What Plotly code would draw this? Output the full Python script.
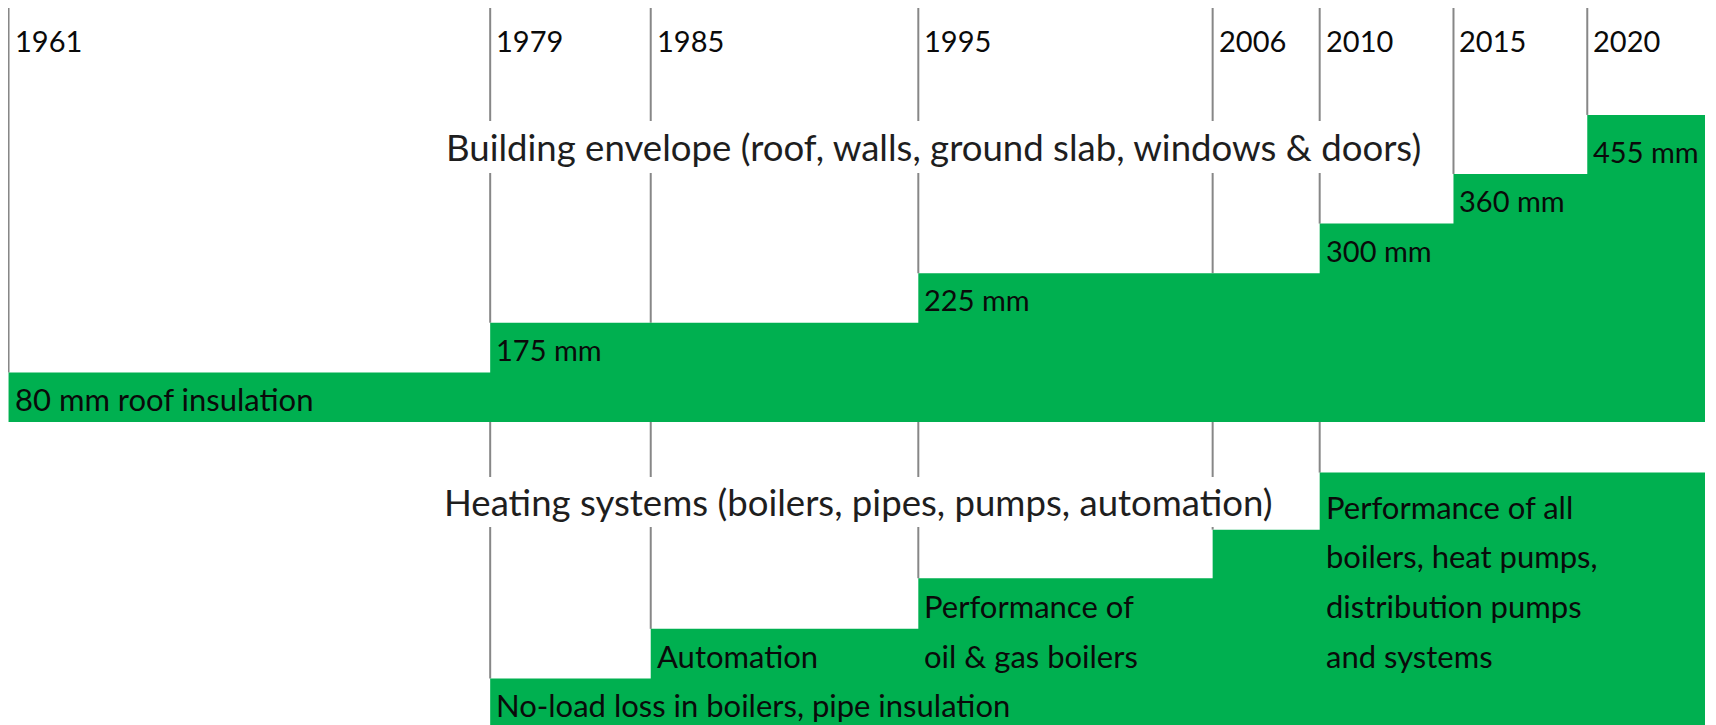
import plotly.graph_objects as go

# ---------------- data ----------------
YEARS = [1961, 1979, 1985, 1995, 2006, 2010, 2015, 2020]
END_YEAR = 2024.4

ENV_YEARS = [1961, 1979, 1995, 2010, 2015, 2020]
ENV_LEVELS = [1, 2, 3, 4, 5, 6.19]
ENV_LABELS = [["80 mm roof insulation"], ["175 mm"], ["225 mm"],
              ["300 mm"], ["360 mm"], ["455 mm"]]

HEAT_YEARS = [1979, 1985, 1995, 2006, 2010]
HEAT_LEVELS = [1, 2, 3.02, 4, 5.15]
HEAT_LABELS = [["No-load loss in boilers, pipe insulation"],
               ["Automation"],
               ["Performance of", "oil & gas boilers"],
               [],
               ["Performance of all", "boilers, heat pumps,",
                "distribution pumps", "and systems"]]

ENV_TITLE = "Building envelope (roof, walls, ground slab, windows & doors)"
HEAT_TITLE = "Heating systems (boilers, pipes, pumps, automation)"

# ---------------- layout constants ----------------
W, H = 1716, 725
X_RANGE = [1960.98, 2025.11]
Y_RANGE = [-0.10, 14.516]
ENV_BASE = 6.17
LINE_TOP = 14.6
YEAR_ROW = 13.86
GREEN = "#00B050"
GRID = "#878787"
FONT = "Lato"
NUM_SIZE = 29
WORD_SIZE = 31
TITLE_SIZE = 36.6
TEXT = "#0a0a0a"


def level_at(years, levels, year):
    lv = None
    for yr, v in zip(years, levels):
        if yr <= year:
            lv = v
    return lv


def label_size(t):
    return NUM_SIZE if t.endswith(" mm") else WORD_SIZE


fig = go.Figure()

# vertical grey year lines
lx, ly = [], []
for yr in YEARS:
    lv = level_at(ENV_YEARS, ENV_LEVELS, yr)
    lx += [yr, yr, None]
    ly += [ENV_BASE + lv, LINE_TOP, None]
for yr in HEAT_YEARS:
    lv = level_at(HEAT_YEARS, HEAT_LEVELS, yr)
    lx += [yr, yr, None]
    ly += [lv, ENV_BASE, None]
fig.add_trace(go.Scatter(x=lx, y=ly, mode="lines",
                         line=dict(color=GRID, width=2),
                         hoverinfo="skip", showlegend=False))

# building envelope step
fig.add_trace(go.Scatter(x=[ENV_YEARS[0], END_YEAR], y=[ENV_BASE, ENV_BASE],
                         mode="lines", line=dict(width=0, color=GREEN),
                         hoverinfo="skip", showlegend=False))
fig.add_trace(go.Scatter(x=ENV_YEARS + [END_YEAR],
                         y=[ENV_BASE + v for v in ENV_LEVELS] + [ENV_BASE + ENV_LEVELS[-1]],
                         mode="lines", line=dict(width=0, color=GREEN, shape="hv"),
                         fill="tonexty", fillcolor=GREEN,
                         hoverinfo="skip", showlegend=False))

# heating systems step
fig.add_trace(go.Scatter(x=HEAT_YEARS + [END_YEAR],
                         y=HEAT_LEVELS + [HEAT_LEVELS[-1]],
                         mode="lines", line=dict(width=0, color=GREEN, shape="hv"),
                         fill="tozeroy", fillcolor=GREEN,
                         hoverinfo="skip", showlegend=False))

ann = []
# year labels
for yr in YEARS:
    ann.append(dict(x=yr, y=YEAR_ROW, xref="x", yref="y", text=str(yr),
                    showarrow=False, xanchor="left", yanchor="middle", xshift=4,
                    font=dict(family=FONT, size=NUM_SIZE, color=TEXT)))

# envelope labels
for yr, lv, lines in zip(ENV_YEARS, ENV_LEVELS, ENV_LABELS):
    for i, t in enumerate(lines):
        ann.append(dict(x=yr, y=ENV_BASE + int(lv) - 0.5 - i, xref="x", yref="y",
                        text=t, showarrow=False, xanchor="left", yanchor="middle",
                        xshift=4, yshift=-2,
                        font=dict(family=FONT, size=label_size(t), color=TEXT)))
# heating labels
for yr, lv, lines in zip(HEAT_YEARS, HEAT_LEVELS, HEAT_LABELS):
    for i, t in enumerate(lines):
        ann.append(dict(x=yr, y=int(lv) - 0.5 - i, xref="x", yref="y",
                        text=t, showarrow=False, xanchor="left", yanchor="middle",
                        xshift=4, yshift=-2,
                        font=dict(family=FONT, size=label_size(t), color=TEXT)))

# section titles with white backgrounds that interrupt the grey lines
ann.append(dict(x=434 / W, y=ENV_BASE + 5.55, xref="paper", yref="y", text=ENV_TITLE,
                showarrow=False, xanchor="left", yanchor="middle",
                bgcolor="white", borderpad=4, borderwidth=0,
                font=dict(family=FONT, size=TITLE_SIZE, color="#1e1e1e")))
ann.append(dict(x=433 / W, y=4.56, xref="paper", yref="y", text=HEAT_TITLE,
                showarrow=False, xanchor="left", yanchor="middle",
                bgcolor="white", borderpad=3, borderwidth=0,
                font=dict(family=FONT, size=TITLE_SIZE, color="#1e1e1e")))

fig.update_layout(
    width=W, height=H,
    margin=dict(l=0, r=0, t=0, b=0),
    paper_bgcolor="white", plot_bgcolor="white",
    xaxis=dict(range=X_RANGE, visible=False, fixedrange=True),
    yaxis=dict(range=Y_RANGE, visible=False, fixedrange=True),
    annotations=ann,
    showlegend=False,
)

fig.write_html("out.html")
